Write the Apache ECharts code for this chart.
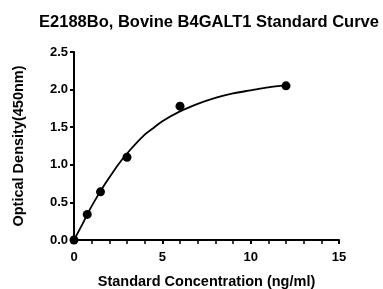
<!DOCTYPE html>
<html>

<head>
    <meta charset="utf-8" />
    <title>ECharts</title>
    <script src="https://cdn.jsdelivr.net/npm/echarts@6/dist/echarts.min.js"></script>
</head>

<body style="margin: 0">
    <div id="main" style="width: 383px; height: 289px"></div>
    <script type="text/javascript">
        // measured standards
        var conc = [0, 0.75, 1.5, 3, 6, 12];
        var od = [0, 0.34, 0.64, 1.1, 1.78, 2.05];

        // fitted curve
        var curveX = [0, 0.5, 0.75, 1, 1.5, 2, 2.5, 3, 4, 4.5, 5, 6, 7, 8, 9, 10, 11, 12];
        var curveY = [0, 0.22, 0.34, 0.45, 0.65, 0.83, 1.0, 1.15, 1.4, 1.49, 1.58, 1.71, 1.81, 1.89, 1.95, 1.99, 2.03, 2.06];

        var font = "Liberation Sans, Arial, sans-serif";

        var points = conc.map(function (x, i) {
            return [x, od[i]];
        });
        var curve = curveX.map(function (x, i) {
            return [x, curveY[i]];
        });

        var myChart = echarts.init(document.getElementById("main"));
        var option = {
            animation: false,
            title: {
                text: "E2188Bo, Bovine B4GALT1 Standard Curve",
                left: 204,
                textAlign: "center",
                top: 9,
                textStyle: {
                    fontFamily: font,
                    fontSize: 16.5,
                    fontWeight: "bold",
                    color: "#000",
                },
            },
            grid: {
                left: 74,
                right: 44,
                top: 52,
                bottom: 49,
                outerBoundsMode: "none",
            },
            xAxis: {
                type: "value",
                min: 0,
                max: 15,
                interval: 5,
                name: "Standard Concentration (ng/ml)",
                nameLocation: "middle",
                nameGap: 34,
                nameTextStyle: {
                    fontFamily: font,
                    fontSize: 14.5,
                    fontWeight: "bold",
                    color: "#000",
                },
                axisLine: { lineStyle: { color: "#000", width: 2 } },
                axisTick: { length: 4, lineStyle: { width: 2 } },
                minorTick: { show: true, splitNumber: 5, length: 4, lineStyle: { color: "#000", width: 1.5 } },
                splitLine: { show: false },
                axisLabel: {
                    fontFamily: font,
                    fontSize: 13,
                    fontWeight: "bold",
                    color: "#000",
                    margin: 11,
                },
            },
            yAxis: {
                type: "value",
                min: 0,
                max: 2.5,
                interval: 0.5,
                name: "Optical Density(450nm)",
                nameLocation: "middle",
                nameGap: 48,
                nameTextStyle: {
                    fontFamily: font,
                    fontSize: 14.5,
                    fontWeight: "bold",
                    color: "#000",
                },
                axisLine: { show: true, lineStyle: { color: "#000", width: 2 } },
                axisTick: { show: true, length: 4, lineStyle: { width: 2 } },
                splitLine: { show: false },
                axisLabel: {
                    fontFamily: font,
                    fontSize: 13,
                    fontWeight: "bold",
                    color: "#000",
                    margin: 6,
                    formatter: function (v) {
                        return v.toFixed(1);
                    },
                },
            },
            series: [
                {
                    type: "line",
                    data: curve,
                    smooth: 0.3,
                    showSymbol: false,
                    lineStyle: { color: "#000", width: 1.8 },
                    z: 2,
                },
                {
                    type: "scatter",
                    data: points,
                    symbolSize: 9,
                    itemStyle: { color: "#000", opacity: 1 },
                    z: 3,
                },
            ],
        };
        myChart.setOption(option);
    </script>
</body>

</html>
